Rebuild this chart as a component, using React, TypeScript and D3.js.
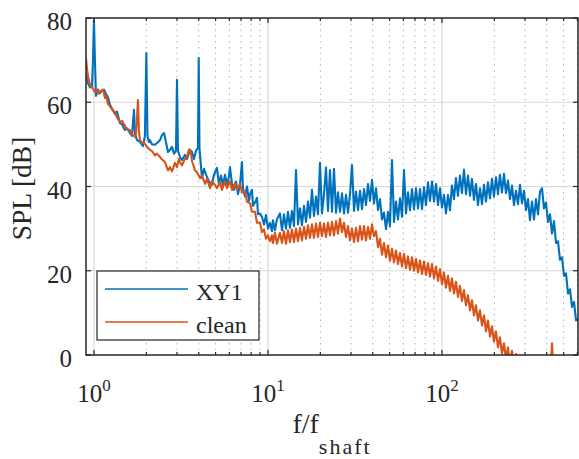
import React, { useEffect, useRef } from 'react';
import * as d3 from 'd3';

// spectra, [f/f_shaft, SPL in dB]
const xy1: [number, number][] = [
  [0.9, 66.5], [0.924, 64.5], [0.949, 63.5], [0.961, 64.2], [0.974, 63.5], [0.987, 70], [1.0, 79.5], [1.013, 70],
  [1.027, 61.5], [1.054, 63], [1.083, 62.2], [1.112, 62.8], [1.141, 63], [1.172, 62], [1.204, 61.2], [1.236, 59.4],
  [1.269, 58.5], [1.32, 57.2], [1.356, 57.8], [1.411, 55], [1.449, 54.8], [1.507, 53.4], [1.548, 53.8], [1.61, 52.7],
  [1.654, 52], [1.698, 58.2], [1.721, 52.5], [1.767, 51], [1.838, 50.6], [1.913, 49.6], [1.962, 52], [2.0, 71.7],
  [2.03, 52], [2.071, 50.5], [2.099, 51], [2.155, 50], [2.242, 49.9], [2.33, 50.5], [2.396, 51], [2.46, 52.2],
  [2.526, 52.7], [2.594, 50.5], [2.663, 48.2], [2.735, 48.7], [2.808, 49.4], [2.883, 47.8], [2.96, 48.5], [3.0, 65.3],
  [3.04, 48.5], [3.122, 47], [3.205, 46.3], [3.335, 47.5], [3.425, 46.5], [3.564, 48.7], [3.659, 48.2], [3.757, 46.5],
  [3.858, 48.5], [3.96, 49.1], [4.0, 70.5], [4.04, 49], [4.177, 42], [4.289, 44.2], [4.465, 42.2], [4.585, 41.2],
  [4.766, 40.4], [4.894, 42.8], [5.089, 44.4], [5.225, 40.6], [5.369, 42.6], [5.513, 40.2], [5.661, 42.8], [5.813, 40.4],
  [5.969, 42.4], [6.049, 44.6], [6.211, 40.6], [6.378, 39.2], [6.549, 41.2], [6.725, 38.2], [6.905, 40.4], [7.09, 45.8],
  [7.184, 39.6], [7.378, 37.6], [7.574, 40.0], [7.778, 36.6], [7.882, 38.2], [8.094, 39.2], [8.201, 35.4], [8.421, 36.2],
  [8.648, 37.3], [8.762, 33.4], [8.997, 33.6], [9.238, 32.8], [9.487, 31.0], [9.741, 33.2], [10.0, 30.0], [10.27, 31.4],
  [10.54, 29.4], [10.68, 32.0], [10.97, 29.6], [11.26, 32.2],
  [11.72, 33.6], [12.04, 29.6], [12.36, 33.4], [12.69, 30.0], [13.03, 34.0], [13.38, 30.2], [13.74, 34.2], [14.11, 30.6],
  [14.49, 43.9], [14.88, 31.0], [15.28, 34.8], [15.68, 30.8], [16.11, 35.4], [16.54, 31.6], [16.98, 36.4], [17.44, 32.6],
  [17.9, 39.2], [18.38, 33.0], [18.88, 37.6], [19.38, 33.4], [19.91, 45.6], [20.44, 33.6], [20.99, 38.2], [21.55, 44.5],
  [22.13, 34.2], [22.72, 43.9], [23.33, 34.0], [23.96, 44.2], [24.6, 33.8], [25.26, 38.6], [25.94, 34.0], [26.64, 38.4],
  [27.35, 33.6], [28.08, 38.0], [28.84, 33.8], [29.61, 38.2], [30.4, 45.1], [31.22, 34.2], [32.06, 38.8], [32.92, 34.4],
  [33.8, 39.0], [34.71, 34.6], [35.64, 39.4], [36.59, 35.6], [37.57, 40.6], [38.58, 36.6], [39.62, 41.6], [40.68, 36.0],
  [41.77, 39.6], [42.89, 34.4], [44.04, 37.0], [45.22, 32.2], [46.43, 33.8], [47.68, 29.9], [48.96, 34.0], [50.27, 30.6],
  [51.62, 46.3], [53.0, 31.6], [54.42, 36.4], [55.88, 32.2], [57.39, 37.2], [58.93, 32.8], [60.51, 43.9], [62.13, 33.6],
  [63.8, 38.6], [65.51, 34.4], [67.27, 39.4], [69.07, 34.6], [70.92, 39.6], [72.82, 34.8], [74.78, 39.4], [76.78, 34.6],
  [78.84, 39.8], [80.95, 35.6], [83.12, 41.0], [85.36, 36.6], [87.65, 41.2], [90.0, 36.4], [92.41, 40.6], [94.89, 35.6],
  [97.39, 39.6], [100.0, 35.0], [102.7, 38.0], [105.4, 33.6], [108.3, 38.0], [111.2, 34.4], [114.1, 40.2], [117.2, 37.0],
  [120.3, 42.0], [123.6, 37.8], [126.9, 42.6], [130.3, 38.4], [133.8, 44.0], [137.4, 38.2], [141.1, 42.6], [144.9, 37.8],
  [148.7, 41.8], [152.7, 36.8], [156.8, 40.6], [161.0, 35.6], [165.4, 39.6], [169.8, 35.8], [174.4, 40.4], [179.0, 36.4],
  [183.8, 41.0], [188.8, 37.2], [193.8, 41.8], [199.0, 37.6], [204.4, 42.2], [209.8, 38.2], [215.4, 42.8], [221.2, 38.6],
  [227.2, 43.0], [233.2, 38.4], [239.5, 41.4], [246.0, 37.0], [252.6, 40.2], [259.3, 35.6], [266.3, 39.0], [273.4, 35.8],
  [280.8, 40.4], [288.3, 36.0], [296.0, 39.0], [304.0, 34.4], [312.1, 37.0], [320.5, 32.0], [329.1, 36.4], [337.9, 32.2],
  [347.0, 37.0], [356.3, 33.4], [365.9, 38.8], [375.7, 39.6], [385.7, 34.8], [396.1, 36.2], [406.7, 31.6], [417.7, 33.4],
  [428.9, 28.8], [440.4, 31.8], [452.2, 26.6], [464.3, 27.0], [476.8, 22.6], [489.6, 23.2], [502.7, 18.8], [516.2, 19.4],
  [530.0, 14.6], [544.3, 15.6], [558.9, 11.4], [573.9, 12.6], [589.3, 8.2], [605.1, 8.6],
];

const clean: [number, number][] = [
  [0.9, 70.5], [0.912, 68], [0.924, 66.2], [0.936, 65.2], [0.949, 64], [0.974, 63.6], [0.987, 63.2], [1.013, 62.4],
  [1.041, 63], [1.068, 62], [1.097, 62.6], [1.126, 63], [1.157, 61], [1.172, 61.6], [1.204, 59.6], [1.236, 59],
  [1.269, 58.4], [1.32, 57.6], [1.356, 56.4], [1.411, 55.3], [1.449, 55.6], [1.507, 54.4], [1.548, 53.6], [1.61, 53.4],
  [1.654, 52.4], [1.721, 51.8], [1.744, 52.6], [1.767, 56], [1.79, 60.5], [1.814, 53], [1.838, 51], [1.887, 50.4],
  [1.962, 50.2], [2.018, 49.4], [2.099, 48.7], [2.155, 48.4], [2.242, 47.4], [2.302, 47.8], [2.396, 47], [2.46, 46.4],
  [2.56, 45.8], [2.63, 44.4], [2.663, 43.8], [2.735, 44.6], [2.808, 43.6], [2.92, 45.6], [3.0, 44.6], [3.08, 46.6],
  [3.122, 45.8], [3.205, 45], [3.335, 46.6], [3.425, 47], [3.515, 48.8], [3.61, 48], [3.659, 46], [3.757, 44.6],
  [3.806, 43.8], [3.912, 43.4], [4.068, 42], [4.177, 42.6], [4.35, 40.6], [4.465, 41.8], [4.642, 39.6], [4.766, 41.2],
  [4.96, 40.4], [5.089, 39.6], [5.299, 41.0], [5.44, 39.2], [5.661, 41.2], [5.813, 39.6], [6.049, 41.2], [6.211, 39.2],
  [6.46, 40.8], [6.64, 39.2], [6.905, 40.6], [7.09, 38.6], [7.378, 38.8], [7.574, 36.4], [7.882, 36.0], [8.094, 34.0],
  [8.421, 34.0], [8.648, 31.4], [8.997, 31.4], [9.238, 29.2], [9.487, 29.8], [9.741, 27.6], [10.0, 28.4], [10.27, 27.0],
  [10.54, 28.4], [10.68, 26.6], [10.97, 29.0], [11.26, 26.4],
  [11.72, 29.0], [12.04, 26.6], [12.36, 29.4], [12.69, 26.4], [13.03, 29.6], [13.38, 26.8], [13.74, 29.8], [14.11, 26.8],
  [14.49, 30.0], [14.88, 27.0], [15.28, 30.2], [15.68, 27.2], [16.11, 30.4], [16.54, 27.6], [16.98, 30.8], [17.44, 27.8],
  [17.9, 31.0], [18.38, 27.8], [18.88, 31.2], [19.38, 28.0], [19.91, 31.4], [20.44, 28.2], [20.99, 31.2], [21.55, 28.0],
  [22.13, 31.4], [22.72, 28.4], [23.33, 31.6], [23.96, 28.4], [24.6, 31.8], [25.26, 28.8], [25.94, 32.4], [26.64, 29.2],
  [27.35, 31.4], [28.08, 28.0], [28.84, 30.6], [29.61, 27.2], [30.4, 30.0], [31.22, 26.8], [32.06, 30.2], [32.92, 27.0],
  [33.8, 30.6], [34.71, 27.4], [35.64, 30.6], [36.59, 27.2], [37.57, 30.4], [38.58, 27.6], [39.62, 31.0], [40.68, 28.2],
  [41.77, 29.4], [42.89, 25.6], [44.04, 27.6], [45.22, 23.8], [46.43, 26.6], [47.68, 23.2], [48.96, 26.0], [50.27, 22.4],
  [51.62, 25.2], [53.0, 22.0], [54.42, 24.8], [55.88, 21.6], [57.39, 24.2], [58.93, 21.0], [60.51, 24.0], [62.13, 20.6],
  [63.8, 23.4], [65.51, 20.2], [67.27, 23.2], [69.07, 20.0], [70.92, 22.8], [72.82, 19.6], [74.78, 22.4], [76.78, 19.2],
  [78.84, 22.2], [80.95, 19.0], [83.12, 21.8], [85.36, 18.6], [87.65, 21.6], [90.0, 18.2], [92.41, 21.0], [94.89, 17.6],
  [97.39, 20.4], [100.0, 16.8], [102.7, 19.6], [105.4, 16.0], [108.3, 18.8], [111.2, 15.2], [114.1, 18.2], [117.2, 14.6],
  [120.3, 17.4], [123.6, 13.8], [126.9, 16.4], [130.3, 12.8], [133.8, 15.4], [137.4, 11.8], [141.1, 14.2], [144.9, 10.6],
  [148.7, 13.0], [152.7, 9.4], [156.8, 11.8], [161.0, 8.2], [165.4, 10.6], [169.8, 7.0], [174.4, 9.4], [179.0, 5.6],
  [183.8, 8.2], [188.8, 4.4], [193.8, 6.8], [199.0, 3.2], [204.4, 5.6], [209.8, 1.8], [215.4, 4.2], [221.2, 0.4],
  [227.2, 2.8], [233.2, -1.0], [239.5, 1.8], [246.0, -2.0], [252.6, 1.0], [259.3, -3.2], [266.3, 0.2], [273.4, -4],
  [420, -4], [428.9, 2.8], [437, -4], [605, -6],
];

const seriesNames = ['XY1', 'clean'];
const seriesColors = ['#0072BD', '#D95319'];

const yTicks = [0, 20, 40, 60, 80];
const xMajor = [1, 10, 100];
const xMajorExp = ['0', '1', '2'];
const xMinor = [2, 3, 4, 5, 6, 7, 8, 9, 20, 30, 40, 50, 60, 70, 80, 90, 200, 300, 400, 500, 600];

const width = 579;
const height = 459;
const margin = { left: 86, right: 1, top: 18, bottom: 104 };
const font = '"Liberation Serif", "Times New Roman", serif';
const ink = '#262626';

const App = () => {
  const ref = useRef(null);

  useEffect(() => {
    const svg = d3.select(ref.current);
    svg.selectAll('*').remove();

    const x = d3.scaleLog().domain([0.9, 605]).range([margin.left, width - margin.right]);
    const y = d3.scaleLinear().domain([0, 80]).range([height - margin.bottom, margin.top]);
    const [x0, x1] = x.range();
    const [y0, y1] = y.range();

    svg.append('rect').attr('width', width).attr('height', height).attr('fill', '#fff');

    // grid: dotted minor, solid major
    svg.append('g').selectAll('line').data(xMinor).join('line')
      .attr('x1', d => x(d)).attr('x2', d => x(d)).attr('y1', y1).attr('y2', y0)
      .attr('stroke', '#b4b4b4').attr('stroke-width', 1).attr('stroke-dasharray', '1.6,4.2');
    svg.append('g').selectAll('line').data(xMajor).join('line')
      .attr('x1', d => x(d)).attr('x2', d => x(d)).attr('y1', y1).attr('y2', y0)
      .attr('stroke', '#d8d8d8').attr('stroke-width', 1.2);
    svg.append('g').selectAll('line').data(yTicks.slice(1, -1)).join('line')
      .attr('x1', x0).attr('x2', x1).attr('y1', d => y(d)).attr('y2', d => y(d))
      .attr('stroke', '#d8d8d8').attr('stroke-width', 1.2);

    // spectra
    svg.append('clipPath').attr('id', 'plot-clip')
      .append('rect').attr('x', x0).attr('y', y1).attr('width', x1 - x0).attr('height', y0 - y1);
    const line = d3.line<[number, number]>().x(d => x(d[0])).y(d => y(d[1]));
    svg.append('g').attr('clip-path', 'url(#plot-clip)')
      .selectAll('path').data([xy1, clean]).join('path')
      .attr('d', d => line(d))
      .attr('fill', 'none')
      .attr('stroke', (d, i) => seriesColors[i])
      .attr('stroke-width', 2.1)
      .attr('stroke-linejoin', 'round');

    // box and inward ticks
    svg.append('rect').attr('x', x0).attr('y', y1).attr('width', x1 - x0).attr('height', y0 - y1)
      .attr('fill', 'none').attr('stroke', ink).attr('stroke-width', 1.5);
    const ticks = svg.append('g').attr('stroke', ink).attr('stroke-width', 1.2);
    [...xMajor.map(v => [v, 5]), ...xMinor.map(v => [v, 3])].forEach(([v, len]) => {
      ticks.append('line').attr('x1', x(v)).attr('x2', x(v)).attr('y1', y0).attr('y2', y0 - len);
      ticks.append('line').attr('x1', x(v)).attr('x2', x(v)).attr('y1', y1).attr('y2', y1 + len);
    });
    yTicks.forEach(v => {
      ticks.append('line').attr('x1', x0).attr('x2', x0 + 5).attr('y1', y(v)).attr('y2', y(v));
      ticks.append('line').attr('x1', x1).attr('x2', x1 - 5).attr('y1', y(v)).attr('y2', y(v));
    });

    // tick labels
    svg.append('g').selectAll('text').data(yTicks).join('text')
      .attr('x', x0 - 14).attr('y', d => y(d) + 12)
      .attr('text-anchor', 'end').style('font-family', font).attr('font-size', 25).attr('fill', ink)
      .text(d => d);
    xMajor.forEach((v, i) => {
      const t = svg.append('text')
        .attr('x', x(v)).attr('y', y0 + 47)
        .attr('text-anchor', 'middle').style('font-family', font).attr('font-size', 25).attr('fill', ink);
      t.append('tspan').text('10');
      t.append('tspan').attr('dy', -11).attr('font-size', 17).text(xMajorExp[i]);
    });

    // axis labels
    const xl = svg.append('text')
      .attr('x', (x0 + x1) / 2).attr('y', 433)
      .attr('text-anchor', 'middle').style('font-family', font).attr('font-size', 28).attr('fill', ink);
    xl.append('tspan').text('f/f');
    xl.append('tspan').attr('dy', 21).attr('font-size', 22).attr('letter-spacing', 2).text('shaft');
    svg.append('text')
      .attr('transform', `translate(31, ${(y0 + y1) / 2 + 2}) rotate(-90)`)
      .attr('text-anchor', 'middle').style('font-family', font).attr('font-size', 27.5).attr('fill', ink)
      .text('SPL [dB]');

    // legend
    const lg = svg.append('g').attr('transform', 'translate(97, 271)');
    lg.append('rect').attr('width', 162).attr('height', 69)
      .attr('fill', '#fff').attr('stroke', ink).attr('stroke-width', 1.2);
    seriesNames.forEach((name, i) => {
      const cy = 18 + i * 33;
      lg.append('line').attr('x1', 8).attr('x2', 91).attr('y1', cy).attr('y2', cy)
        .attr('stroke', seriesColors[i]).attr('stroke-width', 1.4);
      lg.append('text').attr('x', 99).attr('y', cy + 11)
        .style('font-family', font).attr('font-size', 24).attr('fill', ink).text(name);
    });
  }, []);

  return (
    <svg ref={ref} width={width} height={height} style={{ position: 'absolute', left: 0, top: 0 }}></svg>
  );
};

export default App;
